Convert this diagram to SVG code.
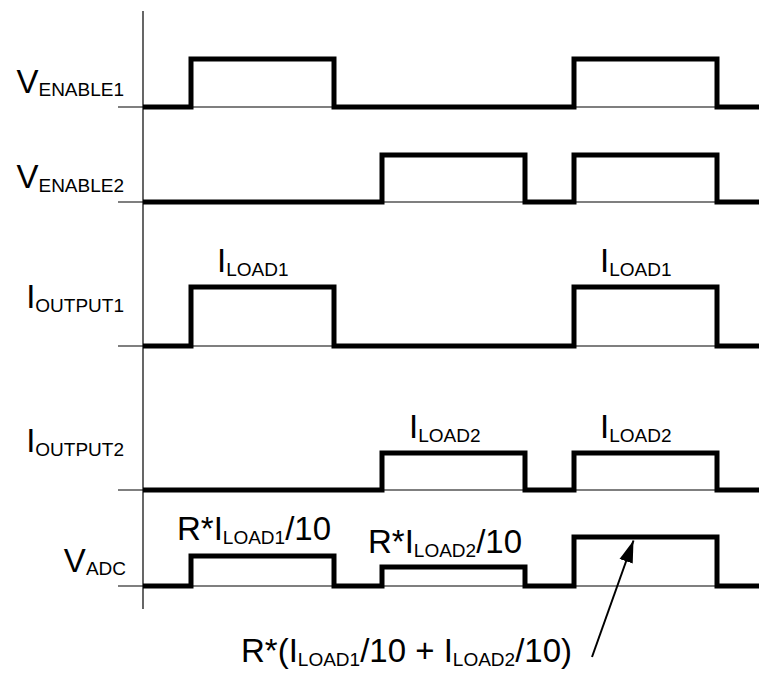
<svg xmlns="http://www.w3.org/2000/svg" width="759" height="675" viewBox="0 0 759 675">
<style>
  text { font-family: "Liberation Sans", Arial, sans-serif; font-size: 33px; fill: #000; }
  .sub { font-size: 19px; }
  .lbl { text-anchor: end; }
  .axis { stroke: #000; stroke-width: 1.2; fill: none; }
  .base { stroke: #000; stroke-width: 1.2; fill: none; }
  .wave { stroke: #000; stroke-width: 5; fill: none; stroke-linejoin: miter; stroke-linecap: butt; }
  .arrow { stroke: #000; stroke-width: 2; fill: none; }
</style>
<defs>
  <marker id="ah" markerUnits="userSpaceOnUse" markerWidth="24" markerHeight="16" viewBox="0 0 24 16" refX="22" refY="8" orient="auto">
    <path d="M0,1 L22,8 L0,15 Z" fill="#000"/>
  </marker>
</defs>
<rect width="759" height="675" fill="#fff"/>

<g id="axis">
  <line class="axis" x1="143" y1="11" x2="143" y2="609"/>
</g>

<g id="venable1">
  <line class="base" x1="118" y1="107" x2="759" y2="107"/>
  <path class="wave" d="M143,107 H191 V59 H334 V107 H574 V59 H717 V107 H759"/>
  <text class="lbl" x="124" y="93">V<tspan class="sub" dy="3">ENABLE1</tspan></text>
</g>

<g id="venable2">
  <line class="base" x1="118" y1="202" x2="759" y2="202"/>
  <path class="wave" d="M143,202 H382 V155 H525 V202 H574 V155 H717 V202 H759"/>
  <text class="lbl" x="124" y="188">V<tspan class="sub" dy="4">ENABLE2</tspan></text>
</g>

<g id="ioutput1">
  <line class="base" x1="118" y1="346" x2="759" y2="346"/>
  <path class="wave" d="M143,346 H191 V287 H334 V346 H574 V287 H717 V346 H759"/>
  <text class="lbl" x="124" y="308">I<tspan class="sub" dy="4">OUTPUT1</tspan></text>
  <text x="217" y="272">I<tspan class="sub" dy="4">LOAD1</tspan></text>
  <text x="600" y="272">I<tspan class="sub" dy="4">LOAD1</tspan></text>
</g>

<g id="ioutput2">
  <line class="base" x1="118" y1="490" x2="759" y2="490"/>
  <path class="wave" d="M143,490 H382 V453 H525 V490 H574 V453 H717 V490 H759"/>
  <text class="lbl" x="124" y="452">I<tspan class="sub" dy="4">OUTPUT2</tspan></text>
  <text x="409" y="438">I<tspan class="sub" dy="4">LOAD2</tspan></text>
  <text x="600" y="438">I<tspan class="sub" dy="4">LOAD2</tspan></text>
</g>

<g id="vadc">
  <line class="base" x1="118" y1="586" x2="759" y2="586"/>
  <path class="wave" d="M143,586 H191 V556 H334 V586 H382 V567 H525 V586 H574 V537 H717 V586 H759"/>
  <text class="lbl" x="126" y="572">V<tspan class="sub" dy="3">ADC</tspan></text>
  <text x="177" y="540">R*I<tspan class="sub" dy="4">LOAD1</tspan><tspan dy="-4">/10</tspan></text>
  <text x="368" y="553">R*I<tspan class="sub" dy="4">LOAD2</tspan><tspan dy="-4">/10</tspan></text>
  <text x="241" y="662">R*(I<tspan class="sub" dy="4">LOAD1</tspan><tspan dy="-4">/10 + I</tspan><tspan class="sub" dy="4">LOAD2</tspan><tspan dy="-4">/10)</tspan></text>
</g>

<g id="connectors">
  <line class="arrow" x1="592" y1="657" x2="633.5" y2="540.5" marker-end="url(#ah)"/>
</g>
</svg>
